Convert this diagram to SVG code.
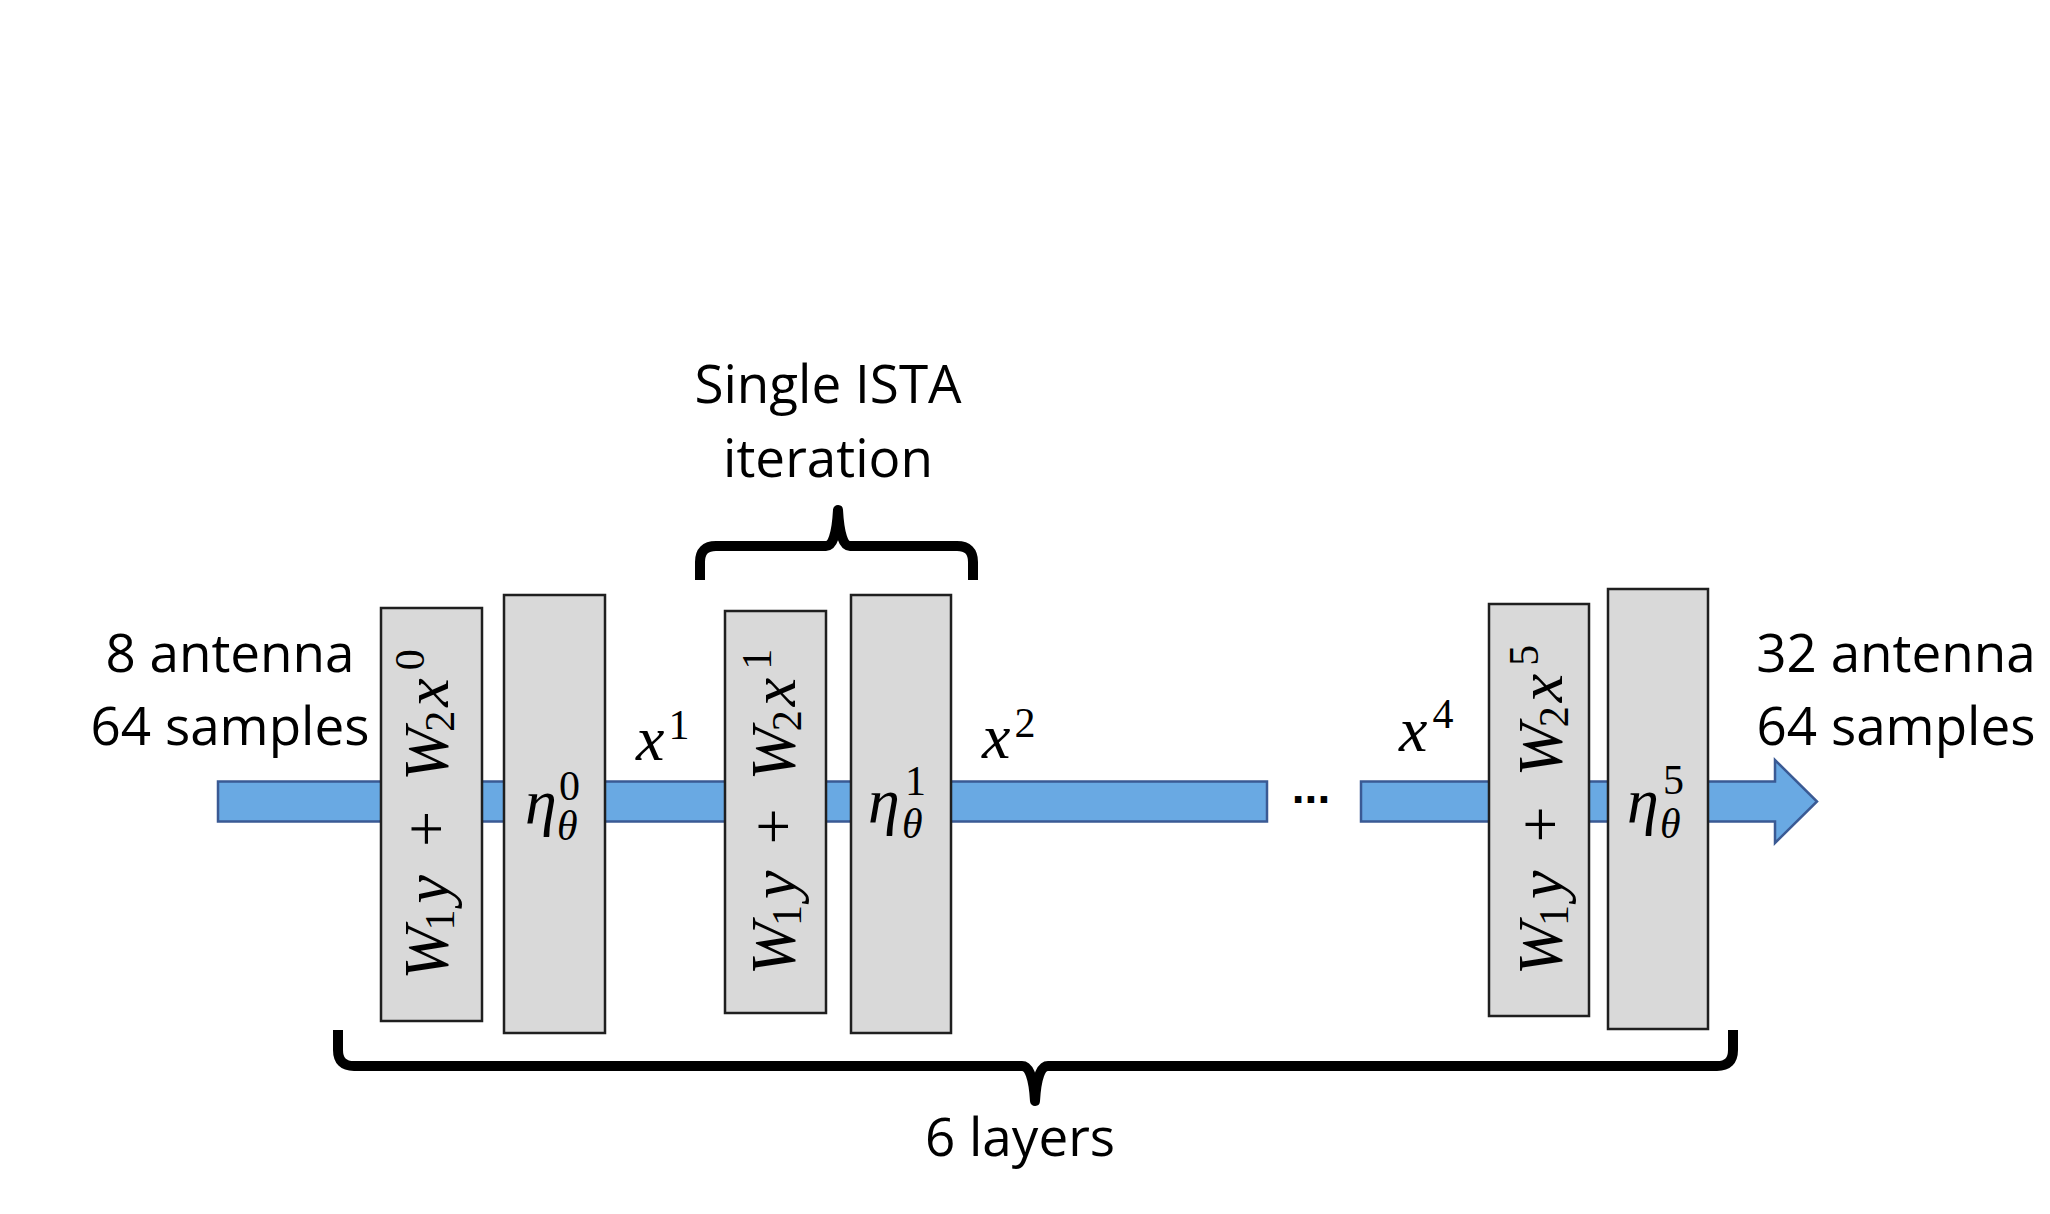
<svg xmlns="http://www.w3.org/2000/svg" width="2050" height="1214" viewBox="0 0 2050 1214">
<style>
.box{fill:#D9D9D9;stroke:#1f1f1f;stroke-width:2.5}
.bar{fill:#69A9E3;stroke:#3A5A94;stroke-width:2.5;stroke-linejoin:miter}
.lbl{font-family:"Open Sans","Liberation Sans",sans-serif;font-size:53px;fill:#000}
.m{font-family:"Liberation Serif",serif;font-style:italic;font-size:64px;fill:#000}
.s{font-style:normal;font-size:42px}
.si{font-style:italic;font-size:42px}
.op{font-style:normal;font-size:64px}
.brace{fill:none;stroke:#000;stroke-width:10;stroke-linejoin:round;stroke-linecap:butt}
</style>
<rect width="2050" height="1214" fill="#fff"/>
<g id="connectors">
<rect class="bar" x="218" y="781.5" width="1049" height="40"/>
<polygon class="bar" points="1361,781.5 1775,781.5 1775,760 1817,801.5 1775,843 1775,821.5 1361,821.5"/>
<path class="brace" d="M700 580 V562 Q700 546 716 546 H826 Q836 546 838 510 Q840 546 850 546 H957 Q973 546 973 562 V580"/>
<path class="brace" d="M338 1030 V1050 Q338 1066 354 1066 H1022 Q1033 1066 1035 1101 Q1037 1066 1048 1066 H1717 Q1733 1066 1733 1050 V1030"/>
</g>
<g id="input-label">
<text class="lbl" text-anchor="middle" x="230" y="672">8 antenna</text>
<text class="lbl" text-anchor="middle" x="230" y="745">64 samples</text>
</g>
<g id="output-label">
<text class="lbl" text-anchor="middle" x="1896" y="672">32 antenna</text>
<text class="lbl" text-anchor="middle" x="1896" y="745">64 samples</text>
</g>
<g id="ista-label">
<text class="lbl" text-anchor="middle" x="828" y="403">Single ISTA</text>
<text class="lbl" text-anchor="middle" x="828" y="477">iteration</text>
</g>
<g id="layers-label">
<text class="lbl" text-anchor="middle" x="1020" y="1156">6 layers</text>
</g>
<g id="linear0">
<rect class="box" x="381" y="608" width="101" height="413"/>
<text class="m" text-anchor="middle" transform="translate(448 814.5) rotate(-90)">W<tspan class="s" dx="-4" dy="6">1</tspan><tspan dx="6" dy="-6">y</tspan><tspan class="op" dx="28">+</tspan><tspan dx="30">W</tspan><tspan class="s" dx="-4" dy="6">2</tspan><tspan dx="4" dy="-6">x</tspan><tspan class="s" dx="8" dy="-24">0</tspan></text>
</g>
<g id="shrink0">
<rect class="box" x="504" y="595" width="101" height="438"/>
<text class="m" x="525" y="823">η</text>
<text class="m" x="559" y="800"><tspan class="s">0</tspan></text>
<text class="m" x="557" y="840"><tspan class="si">θ</tspan></text>
</g>
<g id="x1-label"><text class="m" x="636" y="760">x<tspan class="s" dx="4" dy="-21">1</tspan></text></g>
<g id="linear1">
<rect class="box" x="725" y="611" width="101" height="402"/>
<text class="m" text-anchor="middle" transform="translate(795 812) rotate(-90)">W<tspan class="s" dx="-4" dy="6">1</tspan><tspan dx="6" dy="-6">y</tspan><tspan class="op" dx="26">+</tspan><tspan dx="28">W</tspan><tspan class="s" dx="-4" dy="6">2</tspan><tspan dx="4" dy="-6">x</tspan><tspan class="s" dx="8" dy="-24">1</tspan></text>
</g>
<g id="shrink1">
<rect class="box" x="851" y="595" width="100" height="438"/>
<text class="m" x="868" y="822">η</text>
<text class="m" x="905" y="795"><tspan class="s">1</tspan></text>
<text class="m" x="902" y="838"><tspan class="si">θ</tspan></text>
</g>
<g id="x2-label"><text class="m" x="982" y="758">x<tspan class="s" dx="4" dy="-21">2</tspan></text></g>
<g id="ellipsis"><text font-family="'Liberation Sans',sans-serif" font-weight="bold" font-size="46" text-anchor="middle" x="1311" y="803">...</text></g>
<g id="x4-label"><text class="m" x="1399" y="751">x<tspan class="s" dx="5" dy="-23">4</tspan></text></g>
<g id="linear5">
<rect class="box" x="1489" y="604" width="100" height="412"/>
<text class="m" text-anchor="middle" transform="translate(1562 810) rotate(-90)">W<tspan class="s" dx="-4" dy="6">1</tspan><tspan dx="6" dy="-6">y</tspan><tspan class="op" dx="28">+</tspan><tspan dx="30">W</tspan><tspan class="s" dx="-4" dy="6">2</tspan><tspan dx="4" dy="-6">x</tspan><tspan class="s" dx="8" dy="-24">5</tspan></text>
</g>
<g id="shrink5">
<rect class="box" x="1608" y="589" width="100" height="440"/>
<text class="m" x="1627" y="822">η</text>
<text class="m" x="1663" y="794"><tspan class="s">5</tspan></text>
<text class="m" x="1660" y="838"><tspan class="si">θ</tspan></text>
</g>
</svg>
